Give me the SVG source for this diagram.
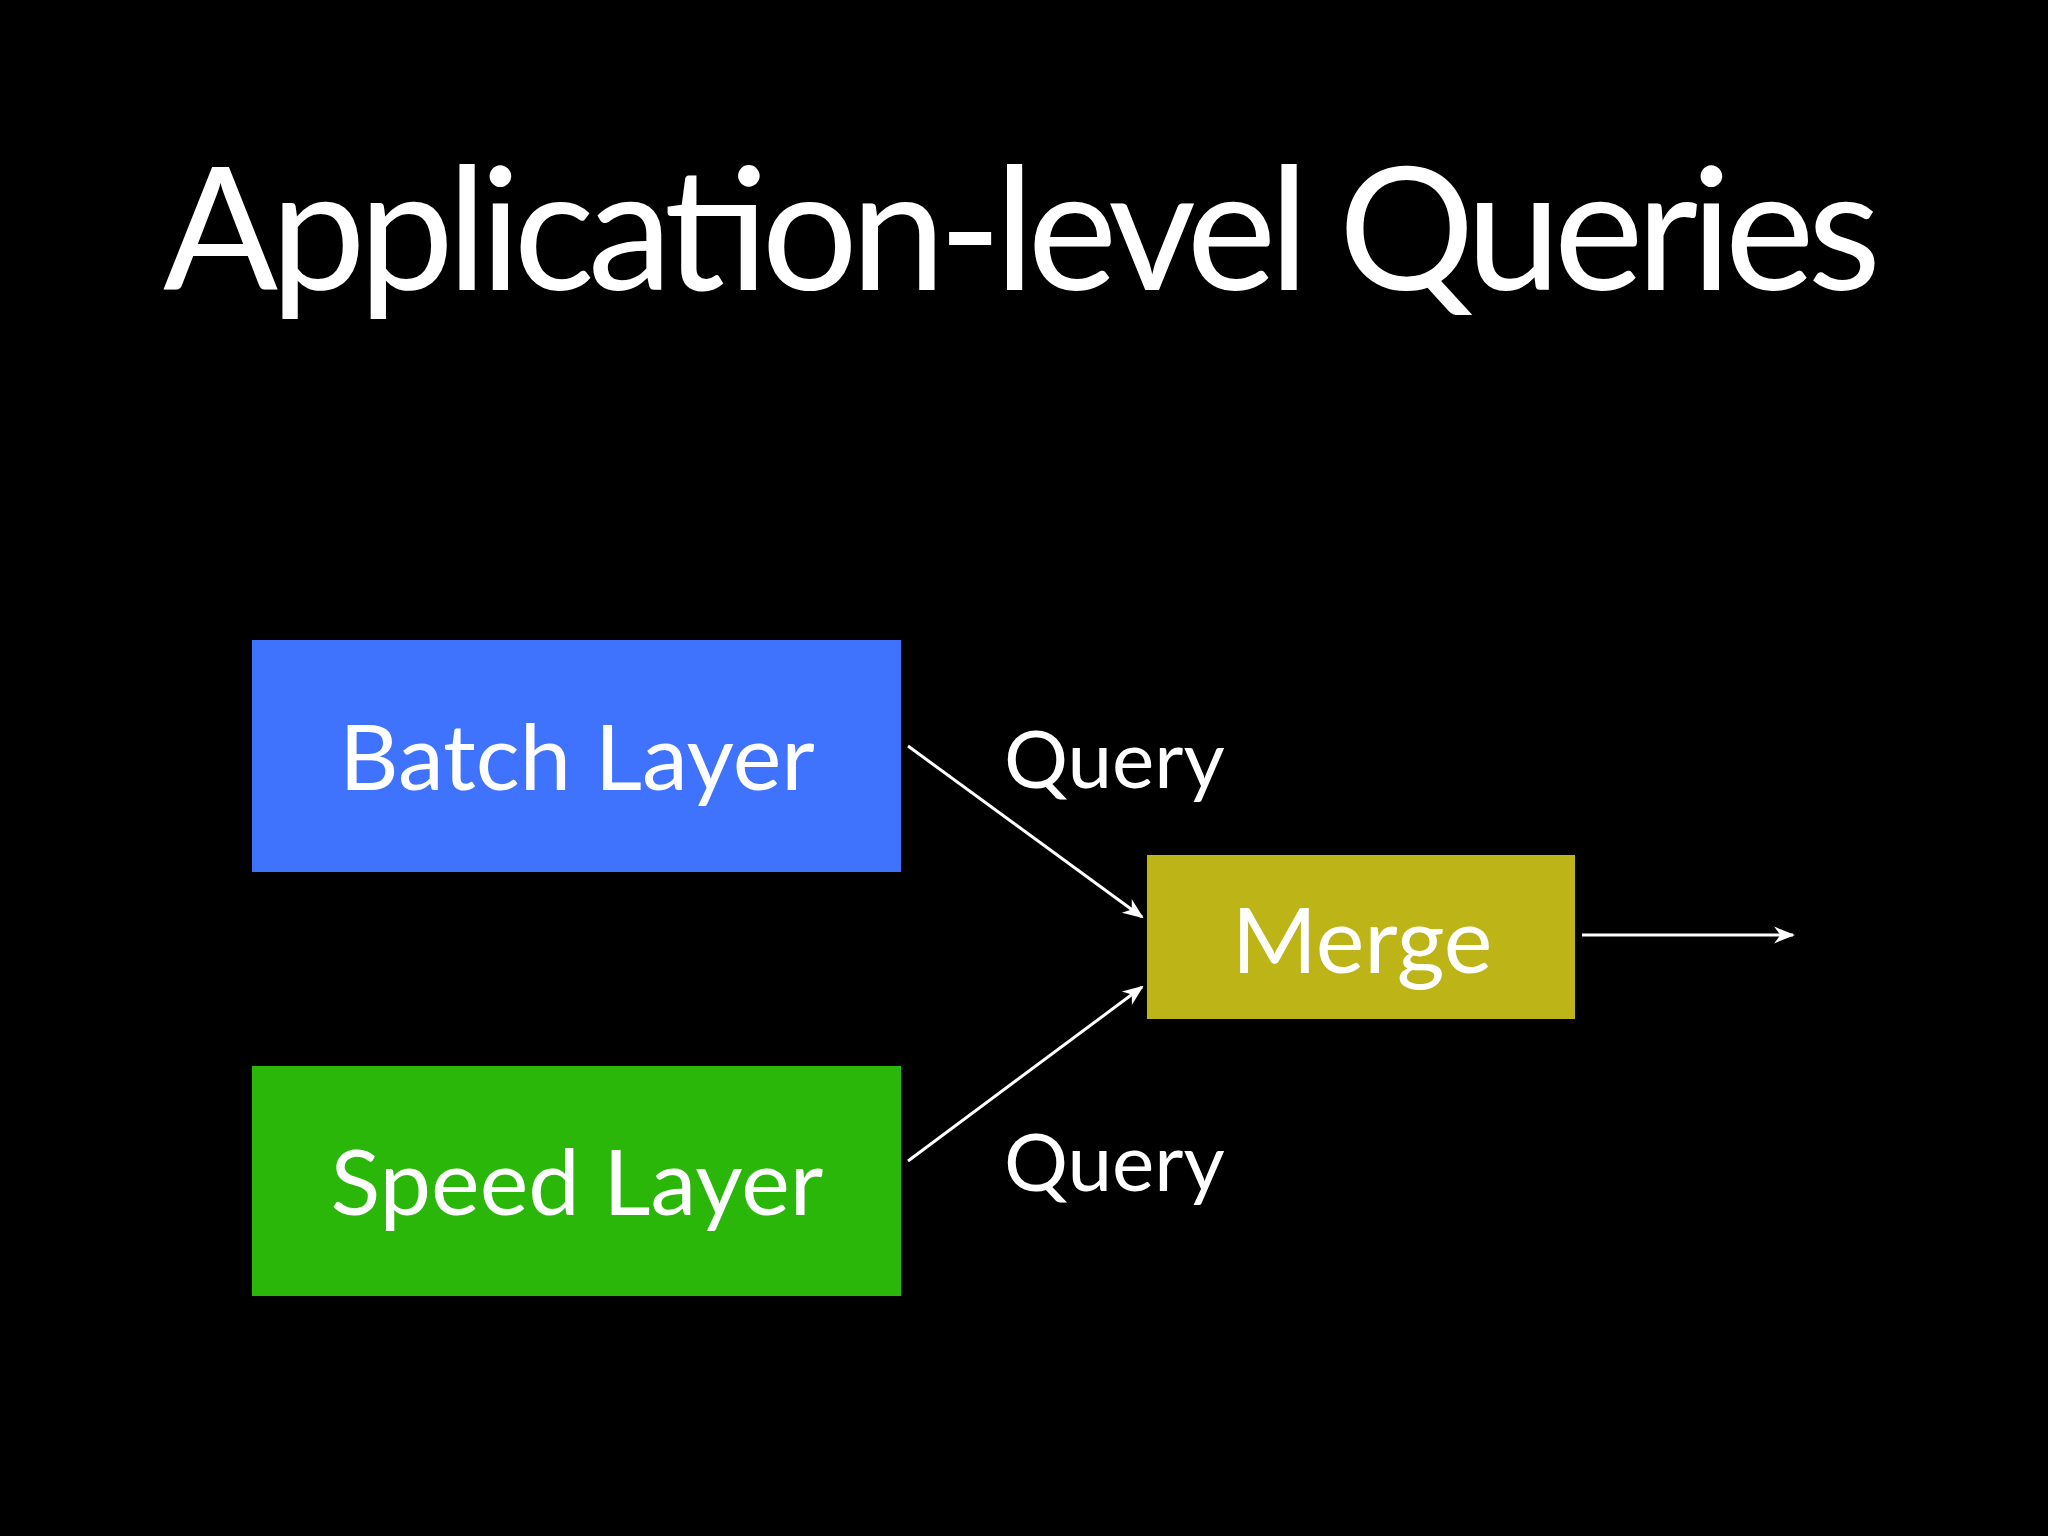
<svg xmlns="http://www.w3.org/2000/svg" width="2048" height="1536" viewBox="0 0 2048 1536">
<style>
text{font-family:"Lato","Open Sans",sans-serif;fill:#fff}
.t{font-size:170px}
.n{font-size:92px;text-anchor:middle}
.q{font-size:80px}
.c{stroke:#fff;stroke-width:3;fill:none;marker-end:url(#a)}
</style>
<defs><marker id="a" viewBox="0 0 10 10" refX="9" refY="5" markerWidth="7" markerHeight="7" markerUnits="strokeWidth" orient="auto"><path d="M0,1 L10,5 L0,9 L3,5 z" fill="#fff"/></marker></defs>
<rect width="2048" height="1536" fill="#000"/>
<text class="t" x="1022" y="290" text-anchor="middle" textLength="1718">Application-level Queries</text>
<g id="batch"><rect x="252" y="640" width="649" height="232" fill="#3f72fd"/><text class="n" x="577" y="790">Batch Layer</text></g>
<g id="speed"><rect x="252" y="1066" width="649" height="230" fill="#2bb70a"/><text class="n" x="577" y="1215">Speed Layer</text></g>
<g id="merge"><rect x="1147" y="855" width="428" height="164" fill="#bdb418"/><text class="n" x="1362" y="973">Merge</text></g>
<g id="connectors">
<path class="c" d="M908,746 L1142,917"/>
<path class="c" d="M908,1161 L1142,987"/>
<path class="c" d="M1582,935 L1793,935"/>
<text class="q" x="1004" y="788">Query</text>
<text class="q" x="1004" y="1191">Query</text>
</g>
</svg>
